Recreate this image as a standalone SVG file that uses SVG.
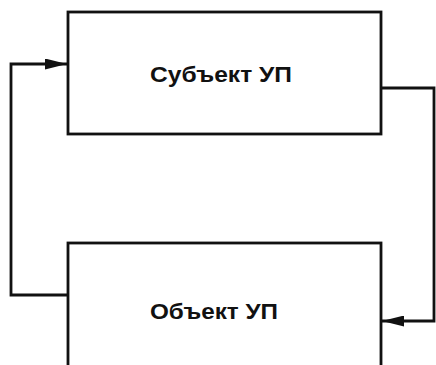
<svg xmlns="http://www.w3.org/2000/svg" width="436" height="365" viewBox="0 0 436 365">
<defs>
<style>
.box{fill:#fff;stroke:#111;stroke-width:2.8}
.lbl{font-family:"Liberation Sans",Arial,sans-serif;font-weight:bold;font-size:22px;fill:#111;text-anchor:middle}
.conn{fill:none;stroke:#111;stroke-width:2.8}
</style>
<marker id="arr" viewBox="0 0 22 11" refX="22" refY="5.5" markerWidth="22" markerHeight="11" markerUnits="userSpaceOnUse" orient="auto">
<path d="M0,0 L22,5.5 L0,11 z" fill="#111"/>
</marker>
</defs>
<rect width="436" height="365" fill="#fff"/>
<g id="subject">
<rect class="box" x="68" y="12" width="313" height="122"/>
<text class="lbl" x="221" y="82" textLength="142" lengthAdjust="spacingAndGlyphs">Субъект УП</text>
</g>
<g id="object">
<rect class="box" x="68" y="243" width="313" height="140"/>
<text class="lbl" x="214" y="319" textLength="128" lengthAdjust="spacingAndGlyphs">Объект УП</text>
</g>
<g id="connectors">
<path class="conn" d="M68,295 H11 V64 H67" marker-end="url(#arr)"/>
<path class="conn" d="M381,88 H434 V321 H382" marker-end="url(#arr)"/>
</g>
</svg>
